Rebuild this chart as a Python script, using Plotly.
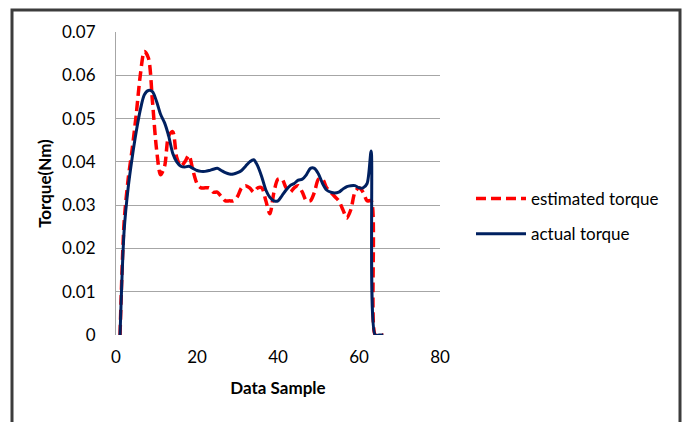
import plotly.graph_objects as go

samples = list(range(1, 67))

estimated_torque = [
    0.0, 0.026, 0.036, 0.043, 0.051, 0.060, 0.0655, 0.064, 0.054, 0.043,
    0.037, 0.039, 0.046, 0.047, 0.041, 0.039, 0.040, 0.0415, 0.038, 0.035,
    0.034, 0.034, 0.034, 0.033, 0.033, 0.032, 0.031, 0.031, 0.031, 0.032,
    0.034, 0.0345, 0.034, 0.033, 0.034, 0.034, 0.031, 0.028, 0.033, 0.036,
    0.036, 0.034, 0.033, 0.034, 0.0345, 0.033, 0.031, 0.031, 0.033, 0.036,
    0.036, 0.034, 0.033, 0.032, 0.031, 0.029, 0.027, 0.029, 0.033, 0.034,
    0.033, 0.031, 0.031, 0.0, 0.0, 0.0,
]

actual_torque = [
    0.0, 0.024, 0.034, 0.041, 0.047, 0.052, 0.0555, 0.0565, 0.0562, 0.054,
    0.051, 0.049, 0.046, 0.042, 0.040, 0.039, 0.0388, 0.039, 0.0385, 0.038,
    0.0378, 0.0378, 0.038, 0.0383, 0.0385, 0.038, 0.0375, 0.0372, 0.0372, 0.0375,
    0.038, 0.039, 0.040, 0.0405, 0.039, 0.0365, 0.0335, 0.0318, 0.031, 0.031,
    0.0322, 0.0335, 0.0345, 0.035, 0.0358, 0.036, 0.037, 0.0385, 0.0385, 0.0372,
    0.035, 0.0335, 0.033, 0.0328, 0.033, 0.0337, 0.0343, 0.0345, 0.0345, 0.034,
    0.034, 0.035, 0.0425, 0.0, 0.0, 0.0,
]

x_ticks = [0, 20, 40, 60, 80]
y_ticks = [0, 0.01, 0.02, 0.03, 0.04, 0.05, 0.06, 0.07]
y_tick_labels = ["0", "0.01", "0.02", "0.03", "0.04", "0.05", "0.06", "0.07"]

FONT = "Lato, Carlito, 'Liberation Sans', sans-serif"
FS = 17

fig = go.Figure()
fig.add_trace(go.Scatter(
    x=samples, y=estimated_torque, mode="lines", name="estimated torque",
    legendgroup="a",
    line=dict(color="#ff0000", width=3.5, dash="10px,5px", shape="spline", smoothing=0.8),
))
fig.add_trace(go.Scatter(
    x=samples, y=actual_torque, mode="lines", name="actual torque",
    legendgroup="b",
    line=dict(color="#002060", width=3, shape="spline", smoothing=0.8),
))

L, R, T, B = 116, 243, 32, 87
W, H = 683, 422
pw, ph = W - L - R, H - T - B

fig.update_layout(
    width=W, height=H,
    margin=dict(l=L, r=R, t=T, b=B, autoexpand=False),
    paper_bgcolor="white", plot_bgcolor="white",
    font=dict(family=FONT, size=FS, color="#000000"),
    showlegend=True,
    legend=dict(
        x=(471 - L) / pw, y=(335 - 181) / ph, xanchor="left", yanchor="top",
        font=dict(family=FONT, size=FS, color="#000000"),
        tracegroupgap=10, traceorder="grouped", itemwidth=50,
        bgcolor="rgba(0,0,0,0)",
    ),
    xaxis=dict(
        range=[0, 80], tickmode="array", tickvals=x_ticks,
        showgrid=False, zeroline=False, showline=False, automargin=False,
        ticks="", ticklabelstandoff=10, tickfont=dict(family=FONT, size=FS),
        title=dict(text="<b>Data Sample</b>", font=dict(family=FONT, size=FS), standoff=16),
    ),
    yaxis=dict(
        range=[0, 0.07], tickmode="array", tickvals=y_ticks, ticktext=y_tick_labels,
        showgrid=True, gridcolor="#a6a6a6", gridwidth=1, automargin=False,
        zeroline=False, showline=True, linecolor="#a6a6a6", linewidth=1,
        ticks="", ticklabelstandoff=16, tickfont=dict(family=FONT, size=FS),
        title=dict(text="<b>Torque(Nm)</b>", font=dict(family=FONT, size=FS), standoff=6),
    ),
    shapes=[
        dict(type="rect", xref="paper", yref="paper",
             x0=(12 - L) / pw, x1=(680 - L) / pw,
             y0=(335 - 440) / ph, y1=(335 - 10) / ph,
             line=dict(color="#3c3c3c", width=3), layer="below"),
    ],
)

fig.write_html(
    "out.html",
    config={"displayModeBar": False},
    post_script="document.body.style.margin='0';document.body.style.padding='0';",
)
